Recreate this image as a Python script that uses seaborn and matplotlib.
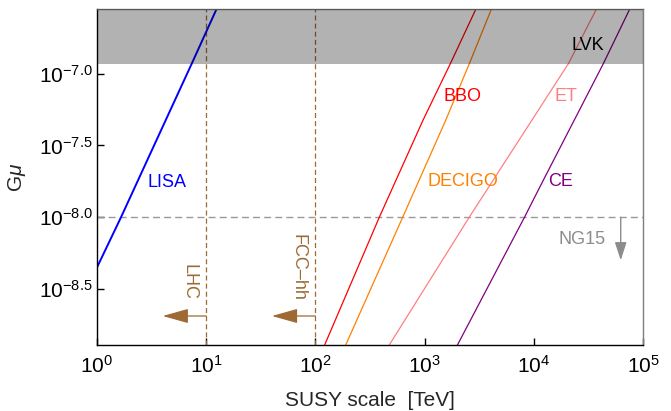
import matplotlib
matplotlib.use("Agg")
import matplotlib.pyplot as plt
import numpy as np
import pandas as pd
import seaborn as sns

# ---------------- data ----------------
detectors = ["LISA", "BBO", "DECIGO", "ET", "CE"]
lisa_scale = [1.0, 1.66, 3.33, 7.36, 12.5]
lisa_gmu = [4.47e-9, 1.0e-8, 3.16e-8, 1.17e-7, 2.84e-7]
bbo_scale = [120, 385, 966, 1718, 2965]
bbo_gmu = [1.26e-9, 1.0e-8, 4.73e-8, 1.17e-7, 2.84e-7]
decigo_scale = [187, 630, 1560, 2564, 4111]
decigo_gmu = [1.26e-9, 1.0e-8, 4.73e-8, 1.17e-7, 2.84e-7]
et_scale = [466, 2564, 5082, 20700, 37670]
et_gmu = [1.26e-9, 1.0e-8, 2.24e-8, 1.17e-7, 2.84e-7]
ce_scale = [1968, 8222, 12220, 43250, 76030]
ce_gmu = [1.26e-9, 1.0e-8, 1.81e-8, 1.17e-7, 2.84e-7]

lvk_bound = 1.17e-7
ng15_bound = 1.0e-8
collider_names = ["LHC", "FCC\u2013hh"]
collider_reach = [10, 100]

xticks = [1, 10, 100, 1e3, 1e4, 1e5]
xticklabels = [r"$10^{0}$", r"$10^{1}$", r"$10^{2}$", r"$10^{3}$", r"$10^{4}$", r"$10^{5}$"]
yticks = [1e-7, 10 ** -7.5, 1e-8, 10 ** -8.5]
yticklabels = [r"$10^{-7.0}$", r"$10^{-7.5}$", r"$10^{-8.0}$", r"$10^{-8.5}$"]

colors = {"LISA": "#0000FF", "BBO": "#FF0000", "DECIGO": "#FF8000",
          "ET": "#FF8080", "CE": "#800080"}
brown = "#9E6A34"
ng_gray = "#8C8C8C"

frames = []
for name, xs, ys in zip(detectors,
                        [lisa_scale, bbo_scale, decigo_scale, et_scale, ce_scale],
                        [lisa_gmu, bbo_gmu, decigo_gmu, et_gmu, ce_gmu]):
    frames.append(pd.DataFrame({"detector": name, "scale": xs, "gmu": ys}))
df = pd.concat(frames, ignore_index=True)

# ---------------- style ----------------
sns.set_style("ticks")
plt.rcParams["font.family"] = ["Liberation Sans", "DejaVu Sans"]
plt.rcParams["mathtext.fontset"] = "custom"
plt.rcParams["mathtext.rm"] = "Liberation Sans"
plt.rcParams["mathtext.it"] = "Liberation Sans:italic"
plt.rcParams["mathtext.bf"] = "Liberation Sans:bold"
plt.rcParams["xtick.direction"] = "in"
plt.rcParams["ytick.direction"] = "in"
plt.rcParams["xtick.major.size"] = 5
plt.rcParams["ytick.major.size"] = 5
plt.rcParams["xtick.major.width"] = 1
plt.rcParams["ytick.major.width"] = 1
plt.rcParams["xtick.color"] = "black"
plt.rcParams["ytick.color"] = "black"
plt.rcParams["xtick.bottom"] = True
plt.rcParams["ytick.left"] = True

fig = plt.figure(figsize=(6.71, 4.11), dpi=100)
ax = fig.add_axes([0.14456, 0.16058, 0.81371, 0.81752])

for name in detectors:
    sub = df[df["detector"] == name]
    sns.lineplot(data=sub, x="scale", y="gmu", color=colors[name],
                 estimator=None, sort=False, legend=False, ax=ax,
                 linewidth=1.4 if name == "LISA" else 0.9, zorder=2)

ax.set_xscale("log")
ax.set_yscale("log")
ax.set_xlim(1, 1e5)
ax.set_ylim(10 ** -8.89, 10 ** -6.55)

# LVK excluded band (drawn on top, semi-transparent)
ax.axhspan(lvk_bound, 1.0, color="black", alpha=0.3, lw=0, zorder=3)

# NG15 bound
ax.axhline(ng15_bound, color="#999999", lw=1.0, ls=(0, (5, 3)), zorder=1)

# collider reaches
for reach in collider_reach:
    ax.axvline(reach, color=brown, lw=0.9, ls=(0, (4, 2.5)), zorder=1)
    ax.annotate("", xy=(reach / 2.5, 10 ** -8.688), xytext=(reach, 10 ** -8.688),
                arrowprops=dict(arrowstyle="-|>,head_length=1.6,head_width=0.45",
                                color=brown, lw=0.9, shrinkA=0, shrinkB=0,
                                mutation_scale=10), zorder=2)

ax.text(7.0, 10 ** -8.451, collider_names[0], rotation=270, color=brown,
        fontsize=13, ha="center", va="center")
ax.text(69.7, 10 ** -8.349, collider_names[1], rotation=270, color=brown,
        fontsize=13, ha="center", va="center")

# NG15 arrow & label
ax.annotate("", xy=(10 ** 4.796, 10 ** -8.30), xytext=(10 ** 4.796, ng15_bound),
            arrowprops=dict(arrowstyle="-|>,head_length=1.1,head_width=0.36",
                            color=ng_gray, lw=1.0, shrinkA=0, shrinkB=0,
                            mutation_scale=10), zorder=2)
ax.text(10 ** 4.443, 10 ** -8.156, "NG15", color=ng_gray, fontsize=13,
        ha="center", va="center")

# detector labels
label_pos = {"LISA": (0.638, -7.755), "BBO": (3.347, -7.158),
             "DECIGO": (3.35, -7.75), "ET": (4.297, -7.158), "CE": (4.247, -7.75)}
for name, (lx, ly) in label_pos.items():
    ax.text(10 ** lx, 10 ** ly, name, color=colors[name], fontsize=13,
            ha="center", va="center", zorder=4)
ax.text(10 ** 4.495, 10 ** -6.803, "LVK", color="black", fontsize=13,
        ha="center", va="center", zorder=4)

# axes cosmetics
ax.set_xticks(xticks)
ax.set_xticklabels(xticklabels)
ax.set_yticks(yticks)
ax.set_yticklabels(yticklabels)
ax.minorticks_off()
ax.tick_params(axis="both", which="major", direction="in", length=5, width=1,
               labelsize=15, bottom=True, left=True, top=False, right=False,
               color="black")
ax.tick_params(axis="x", pad=7)
ax.tick_params(axis="y", pad=3)

for s in ["left", "bottom"]:
    ax.spines[s].set_color("black")
    ax.spines[s].set_linewidth(1.0)
for s in ["top", "right"]:
    ax.spines[s].set_color("#7F7F7F")
    ax.spines[s].set_linewidth(1.0)
    ax.spines[s].set_visible(True)

ax.set_xlabel("SUSY scale  [TeV]", fontsize=15, labelpad=10)
ax.set_ylabel(r"G$\mathit{\mu}$", fontsize=15, labelpad=8)

fig.savefig("out.png", dpi=100)
